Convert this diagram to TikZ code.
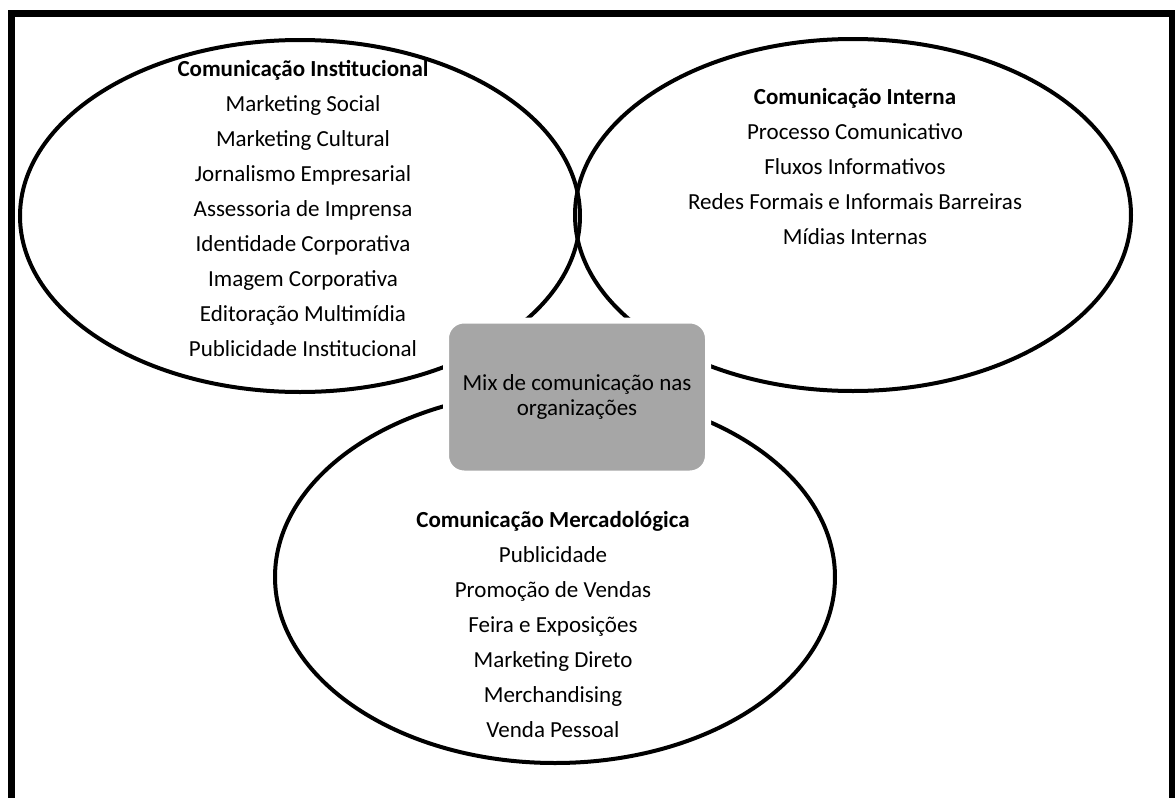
\documentclass[tikz,border=0pt]{standalone}
\usepackage{fontspec}
\setmainfont{Carlito}
\usetikzlibrary{shapes.geometric}

\definecolor{boxgray}{HTML}{A6A6A6}

\tikzset{
  area/.style={ellipse, draw, line width=2pt, inner sep=0pt},
  itemlist/.style={align=center, inner sep=0pt, font=\fontsize{11.5}{17.5}\selectfont},
  mixbox/.style={rounded corners=9pt, fill=boxgray, draw=white, line width=3pt,
    minimum width=131pt, minimum height=76.5pt, align=center,
    font=\fontsize{11.5}{12.5}\selectfont}
}

\begin{document}
\begin{tikzpicture}[x=0.5pt,y=-0.5pt]
\useasboundingbox (0,0) rectangle (1175,798);
\clip (0,0) rectangle (1175,798);

% outer frame (runs past the bottom edge)
\draw[line width=3.5pt] (11.5,13.5) rectangle (1172.5,830);

% the three areas
\node[area, minimum width=280pt, minimum height=176pt] (inst) at (300,216) {};
\node[area, minimum width=278pt, minimum height=176pt] (inter) at (853,215) {};
\node[area, minimum width=280pt, minimum height=186pt] (merc) at (555,577) {};

% what each area holds
\node[itemlist] (instlist) at (303,208) {\textbf{Comunicação Institucional}\\
  Marketing Social\\ Marketing Cultural\\ Jornalismo Empresarial\\
  Assessoria de Imprensa\\ Identidade Corporativa\\ Imagem Corporativa\\
  Editoração Multimídia\\ Publicidade Institucional};
\node[itemlist] (interlist) at (855,167) {\textbf{Comunicação Interna}\\
  Processo Comunicativo\\ Fluxos Informativos\\
  Redes Formais e Informais Barreiras\\ Mídias Internas};
\node[itemlist] (merclist) at (553,625) {\textbf{Comunicação Mercadológica}\\
  Publicidade\\ Promoção de Vendas\\ Feira e Exposições\\
  Marketing Direto\\ Merchandising\\ Venda Pessoal};

% centre box sits on top of the outlines
\node[mixbox] (mix) at (577,397) {Mix de comunicação nas\\ organizações};
\end{tikzpicture}
\end{document}
